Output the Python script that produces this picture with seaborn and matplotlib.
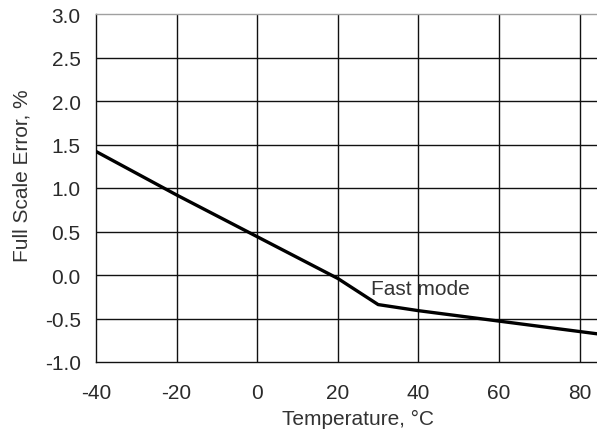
import matplotlib
matplotlib.use('Agg')
import matplotlib.pyplot as plt
import seaborn as sns
import pandas as pd

# ── Data ──────────────────────────────────────────────────────────────────
temps  = [-40, -20, 0, 20, 30, 40, 60, 85]
errors = [1.42, 0.92, 0.44, -0.04, -0.34, -0.41, -0.53, -0.68]
x_ticks = [-40, -20, 0, 20, 40, 60, 80]
y_ticks = [-1.0, -0.5, 0.0, 0.5, 1.0, 1.5, 2.0, 2.5, 3.0]
note = 'Fast mode'

df = pd.DataFrame({'temp': temps, 'err': errors})

sns.set_theme(style='white')
plt.rcParams['font.family'] = ['Liberation Sans', 'DejaVu Sans']
FS = 15

fig = plt.figure(figsize=(5.97, 4.35), dpi=100)
# axes run past the right edge (the original is cropped there)
ax = fig.add_axes([96 / 597, 72 / 435, 524 / 597, 348 / 435])

for xv in x_ticks[1:]:
    ax.axvline(xv, color='#111111', lw=1.0, zorder=1)
for yv in y_ticks[1:-1]:
    ax.axhline(yv, color='#111111', lw=1.0, zorder=1)

sns.lineplot(data=df, x='temp', y='err', ax=ax, color='black', lw=2.4,
             zorder=3)

ax.text(28.3, -0.22, note, ha='left', va='baseline', fontsize=FS,
        color='#333333')

ax.set_xlim(-40, 90)
ax.set_ylim(-1.0, 3.0)
ax.set_xticks(x_ticks)
ax.set_yticks(y_ticks)
ax.set_xticklabels([str(v) for v in x_ticks])
ax.set_yticklabels([f'{v:.1f}' for v in y_ticks])
ax.tick_params(axis='both', direction='out', length=5, width=1,
               color='#111111', labelsize=FS, labelcolor='#2a2a2a')
ax.tick_params(axis='x', pad=10)
ax.tick_params(axis='y', pad=6)

for s in ['left', 'bottom']:
    ax.spines[s].set_color('#111111')
    ax.spines[s].set_linewidth(1.0)
ax.spines['top'].set_color('#a0a0a0')
ax.spines['top'].set_linewidth(1.0)
ax.spines['right'].set_visible(False)

ax.set_xlabel('Temperature, °C', fontsize=FS, color='#333333', labelpad=5)
ax.set_ylabel('Full Scale Error, %', fontsize=FS, color='#333333')
ax.yaxis.set_label_coords(-0.124, 0.537)

fig.savefig('out.png', dpi=100, facecolor='white')
plt.close(fig)
